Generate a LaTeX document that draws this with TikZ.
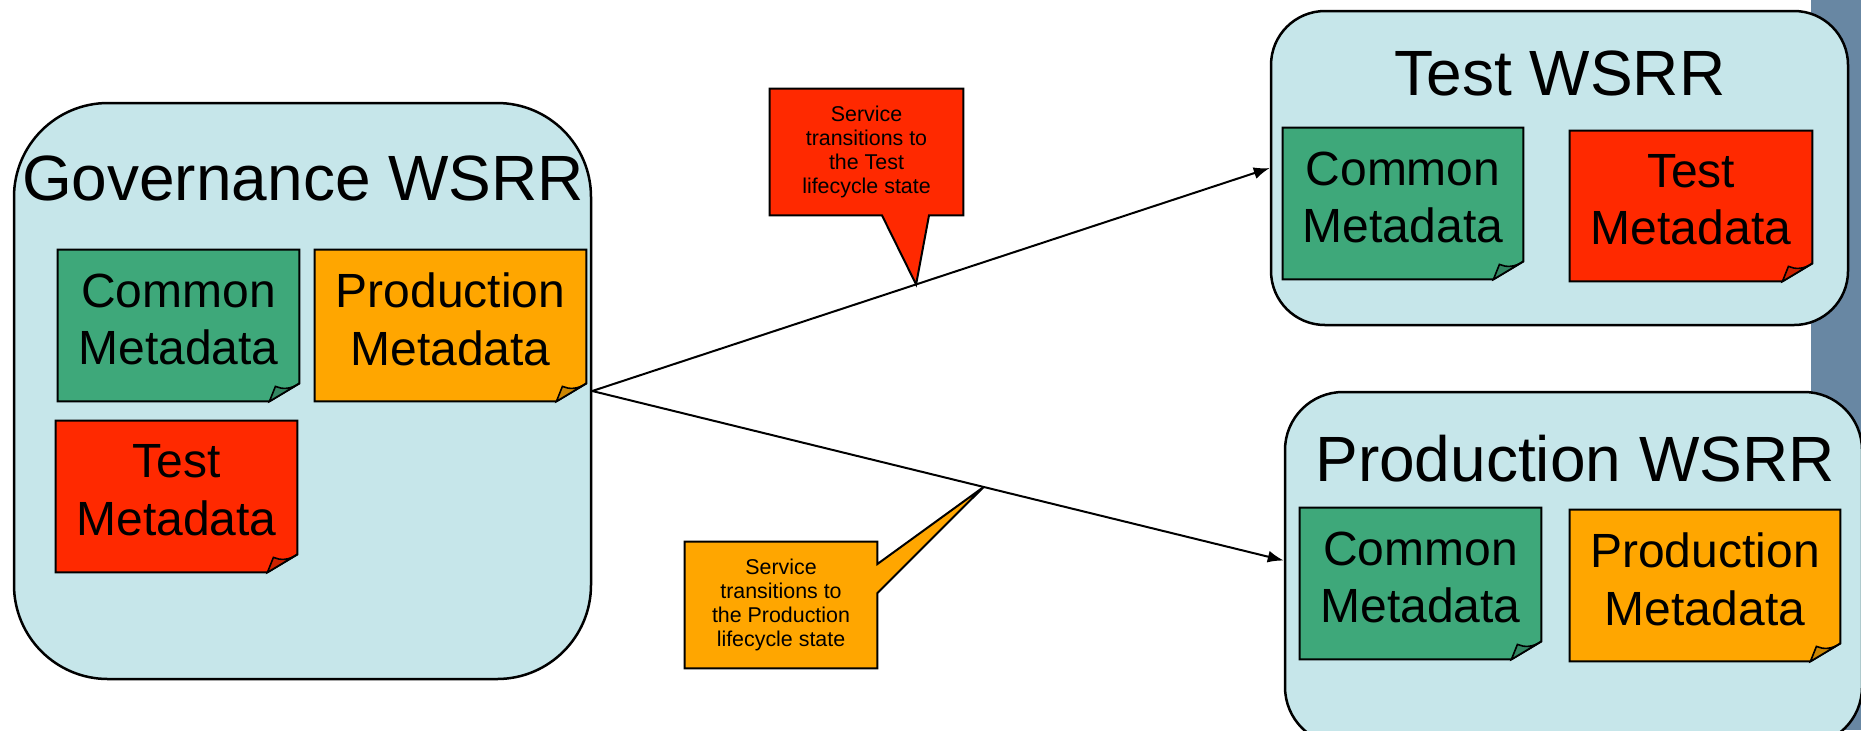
\documentclass[tikz,border=0pt]{standalone}
\usepackage{fontspec}
\setmainfont{Liberation Sans}
\usetikzlibrary{arrows.meta, backgrounds}

\definecolor{boxblue}{RGB}{198,230,234}
\definecolor{commongreen}{RGB}{62,168,122}
\definecolor{prodorange}{RGB}{255,166,0}
\definecolor{testred}{RGB}{255,41,0}
\definecolor{stripgrey}{RGB}{104,135,163}

\pgfdeclarelayer{paper}
\pgfsetlayers{background,paper,main}

\tikzset{
    wsrr/.style={draw, line width=1.25pt, fill=boxblue, rounded corners=#1, inner sep=0pt},
    title/.style={font=\fontsize{32pt}{38pt}\selectfont, anchor=base, inner sep=0pt},
    note/.style={inner sep=0pt, align=center, text depth=6.5pt, font=\fontsize{24pt}{28.7pt}\selectfont},
    notepaper/.style={draw, line width=1pt, line join=miter},
    callout/.style={inner sep=0pt, align=center, font=\fontsize{10.7pt}{12pt}\selectfont},
    calloutline/.style={draw, line width=1pt, line join=miter},
    link/.style={-{Latex[length=8pt, width=6pt]}, line width=1pt}
}

% sheet of paper with a curled corner behind a note
\newcommand{\notesheet}[2]{
    \begin{scope}[shift={(#1.south east)}]
        \filldraw[notepaper, fill=#2] (#1.north west) -- (#1.north east) -- (0,-18) -- (-30,0) -- (#1.south west) -- cycle;
        \filldraw[fill=#2!80!black, line width=0.8pt] (-30,0) -- (-24,-15) .. controls (-17,-12) and (-9,-12) .. (0,-18) -- cycle;
    \end{scope}
}

\begin{document}
\begin{tikzpicture}[x=0.5pt, y=-0.5pt]
    \useasboundingbox (0,0) rectangle (1861,730);

    % registries
    \begin{scope}[on background layer]
        \fill[stripgrey] (1811,0) rectangle (1861,730);
        \node[wsrr=47pt, minimum width=288.5pt, minimum height=288pt] (gov) at (302.5,391) {};
        \node[wsrr=27pt, minimum width=288.5pt, minimum height=157pt] (test) at (1559.5,168) {};
        \node[wsrr=29pt, minimum width=288.5pt, minimum height=176.5pt] (prod) at (1573.5,568.5) {};
    \end{scope}

    \node[title] (govtitle) at (303,200) {Governance WSRR};
    \node[title] (testtitle) at (1560,95) {Test WSRR};
    \node[title] (prodtitle) at (1575,481) {Production WSRR};

    % metadata notes
    \node[note, minimum width=120.5pt, minimum height=75.5pt] (govcommon) at (178.5,325.5) {Common\\Metadata};
    \node[note, minimum width=135.5pt, minimum height=75.5pt] (govprod) at (450.5,325.5) {Production\\Metadata};
    \node[note, minimum width=120.5pt, minimum height=75.5pt] (govtest) at (176.5,496.5) {Test\\Metadata};
    \node[note, minimum width=120pt, minimum height=75.5pt] (testcommon) at (1403,203.5) {Common\\Metadata};
    \node[note, minimum width=121pt, minimum height=75pt] (testtest) at (1691,206) {Test\\Metadata};
    \node[note, minimum width=120.5pt, minimum height=75.5pt] (prodcommon) at (1420.5,583.5) {Common\\Metadata};
    \node[note, minimum width=135pt, minimum height=75.5pt] (prodprod) at (1705,585.5) {Production\\Metadata};

    \begin{pgfonlayer}{paper}
        \foreach \n/\c in {govcommon/commongreen, govprod/prodorange, govtest/testred,
                testcommon/commongreen, testtest/testred, prodcommon/commongreen, prodprod/prodorange}
            \notesheet{\n}{\c};
    \end{pgfonlayer}

    % transitions
    \draw
    (gov.east) edge[link] node[coordinate, pos=0.478] (tiptest) {} (test.west)
    (gov.east) edge[link] node[coordinate, pos=0.566] (tipprod) {} ([yshift=4pt]prod.west);

    % callouts
    \node[callout, minimum width=96.5pt, minimum height=63pt] (testnote) at (866.5,152) {Service\\transitions to\\the Test\\lifecycle state};
    \node[callout, minimum width=96pt, minimum height=63pt] (prodnote) at (781,605) {Service\\transitions to\\the Production\\lifecycle state};

    \begin{pgfonlayer}{paper}
        \filldraw[calloutline, fill=testred] (testnote.north west) -- (testnote.north east) -- (testnote.south east)
            -- ([xshift=31.25pt]testnote.south) -- (tiptest) -- ([xshift=7.75pt]testnote.south) -- (testnote.south west) -- cycle;
        \filldraw[calloutline, fill=prodorange] (prodnote.north west) -- (prodnote.north east) -- ([yshift=20.5pt]prodnote.east)
            -- (tipprod) -- ([yshift=6pt]prodnote.east) -- (prodnote.south east) -- (prodnote.south west) -- cycle;
    \end{pgfonlayer}
\end{tikzpicture}
\end{document}
